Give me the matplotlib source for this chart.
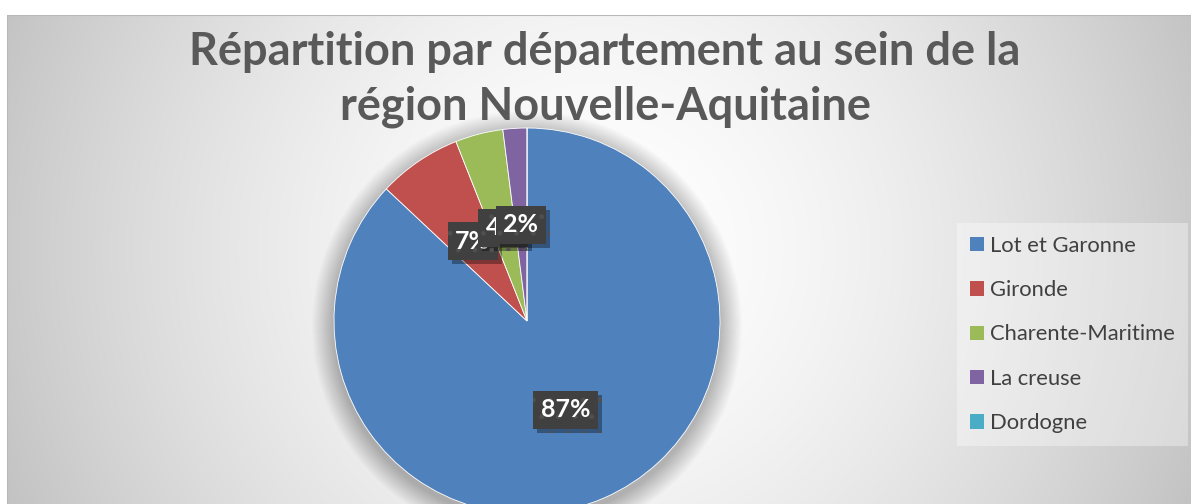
"""Pie chart: répartition par département (Nouvelle-Aquitaine)."""

import matplotlib
matplotlib.use("Agg")
import matplotlib.pyplot as plt
import matplotlib.patheffects as pe
from matplotlib.patches import Circle
import numpy as np

departements = ["Lot et Garonne", "Gironde", "Charente-Maritime", "La creuse", "Dordogne"]
parts = [87, 7, 4, 2, 0]
couleurs = ["#4F81BD", "#C0504D", "#9BBB59", "#8064A2", "#4BACC6"]
titre = ["Répartition par département au sein de la", "région Nouvelle-Aquitaine"]

W, H = 1191, 504
plt.rcParams['font.family'] = ['Lato', 'DejaVu Sans']
plt.rcParams['hatch.linewidth'] = 1.0

fig = plt.figure(figsize=(W / 100, H / 100), dpi=100, facecolor="white")

# chart area with radial gradient, pixel coordinates (y up)
x0, y_top = 7, 15
bg = fig.add_axes([x0 / W, 0, (W - x0) / W, (H - y_top) / H])
bg.set_axis_off()
gx, gy = np.meshgrid(np.arange(x0, W), np.arange(y_top, H))
dist = np.hypot(gx - 600, gy - 250) / 650
dist = np.clip(dist, 0, 1)
shade = 1.0 - 0.24 * dist ** 1.6
bg.imshow(np.dstack([shade] * 3), aspect="auto", extent=(0, 1, 0, 1))
bg.set_xlim(0, 1)
bg.set_ylim(0, 1)
bg.plot([0, 0, 1], [0, 1, 1], color="#b8b8b8", lw=1.5, transform=bg.transAxes)

ax = fig.add_axes([0, 0, 1, 1])
ax.patch.set_alpha(0)
cx, cy, r = 527, H - 321, 193

# soft shadow around the pie, a little lower than the pie itself
for k in range(22, 0, -1):
    ax.add_patch(Circle((cx, cy - 5), r + k, color="black", alpha=0.011, lw=0))

wedges, texts = ax.pie(
    parts, colors=couleurs, startangle=90, counterclock=False,
    center=(cx, cy), radius=r,
    wedgeprops=dict(edgecolor="white", linewidth=0.6),
)
ax.set_xlim(0, W)
ax.set_ylim(0, H)
ax.set_aspect("equal")
ax.set_axis_off()

# percentage labels
total = sum(parts)
start = 90.0
for val in parts:
    span = 360.0 * val / total
    if val > 0:
        mid = np.deg2rad(start - span / 2)
        t = ax.text(cx + 0.5 * r * np.cos(mid), cy + 0.5 * r * np.sin(mid),
                    f"{val}%", ha="center", va="center", color="white",
                    fontsize=18, fontweight="bold",
                    bbox=dict(boxstyle="square,pad=0.3", facecolor="#404040",
                              edgecolor="#505050", linewidth=0, hatch="."))
        t.get_bbox_patch().set_path_effects([
            pe.SimplePatchShadow(offset=(3, -3), shadow_rgbFace="black", alpha=0.35),
            pe.Normal()])
    start -= span

# title
fig.text(605 / W, 1 - 52 / H, titre[0], ha="center", va="center",
         fontsize=32.5, fontweight="bold", color="#595959")
fig.text(605 / W, 1 - 107 / H, titre[1], ha="center", va="center",
         fontsize=32.5, fontweight="bold", color="#595959")

leg = ax.legend(wedges, departements, loc="center left",
                bbox_to_anchor=(957 / W, 1 - 334.5 / H), bbox_transform=fig.transFigure,
                fontsize=15.8, frameon=True, fancybox=False, borderaxespad=0,
                handlelength=0.62, handleheight=0.62, handletextpad=0.3,
                labelspacing=1.11, borderpad=0.6, labelcolor="#404040")
leg.get_frame().set_facecolor("white")
leg.get_frame().set_alpha(0.35)
leg.get_frame().set_linewidth(0)
for h in leg.legend_handles:
    h.set_edgecolor("none")

fig.savefig("out.png", dpi=100)
